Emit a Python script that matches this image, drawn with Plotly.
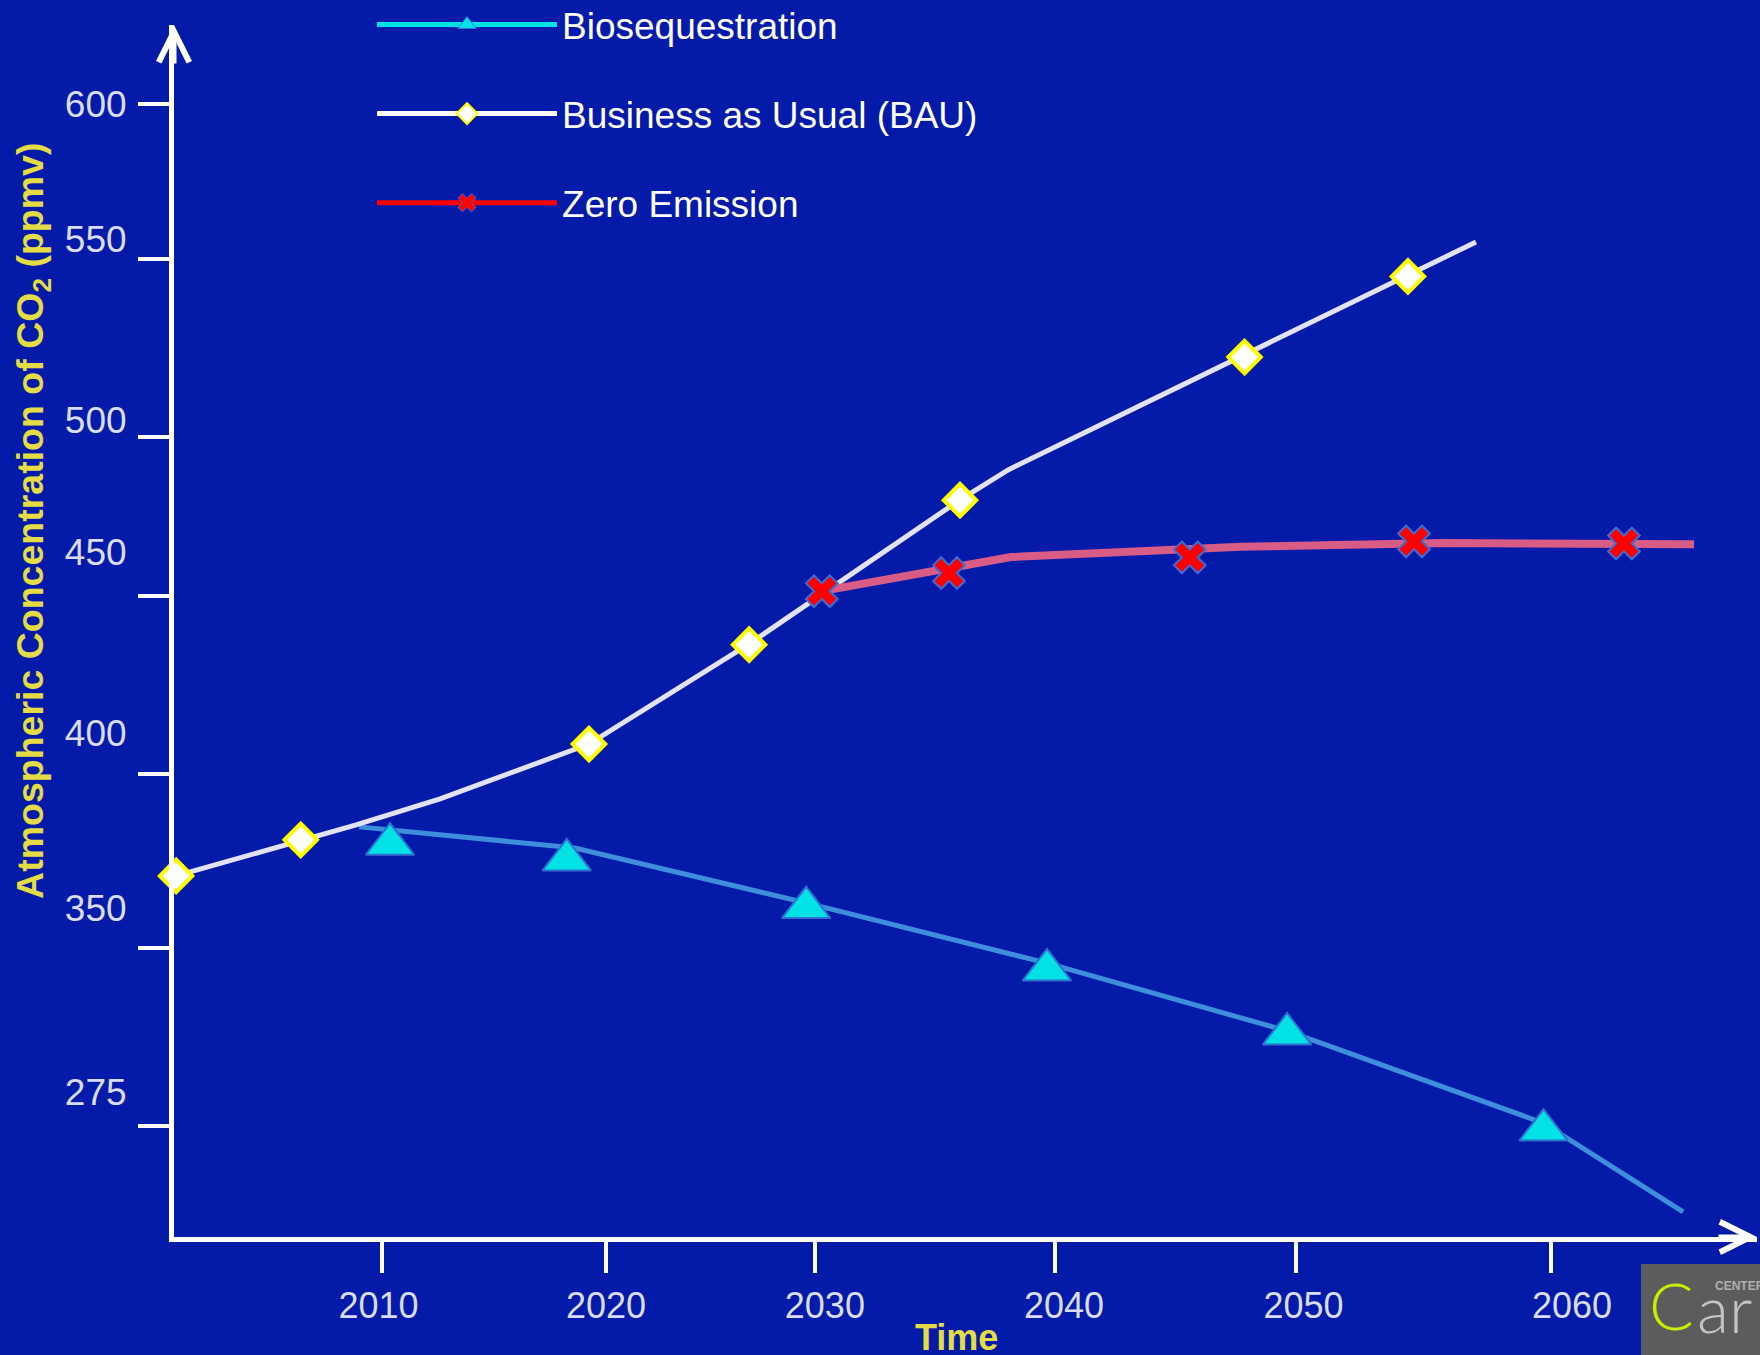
import plotly.graph_objects as go

# ---------------- data (axis units: year / ppmv) ----------------
bio_line_year = [2009.02, 2018.25, 2028.14, 2038.44, 2048.71, 2059.66, 2065.65]
bio_line_ppm = [387.8, 381.6, 365.5, 347.8, 327.9, 300.9, 274.8]
bio_pt_year = [2010.34, 2017.90, 2028.14, 2038.44, 2048.71, 2059.68]
bio_pt_ppm = [382.7, 378.1, 364.1, 345.8, 327.0, 298.8]

bau_line_year = [2001.19, 2006.54, 2008.89, 2012.48, 2018.85, 2025.70, 2034.72, 2036.78, 2056.79]
bau_line_ppm = [373.4, 384.0, 388.4, 396.0, 412.1, 441.5, 483.8, 492.6, 559.5]
bau_pt_year = [2001.19, 2006.52, 2018.85, 2025.70, 2034.72, 2046.89, 2053.88]
bau_pt_ppm = [373.4, 384.0, 412.1, 441.3, 483.7, 525.7, 549.4]

zero_line_year = [2028.81, 2036.90, 2046.74, 2055.42, 2066.12]
zero_line_ppm = [457.0, 467.0, 470.0, 471.1, 470.8]
zero_pt_year = [2028.81, 2034.25, 2044.55, 2054.14, 2063.12]
zero_pt_ppm = [457.0, 462.3, 466.9, 471.6, 471.0]

# tick marks and tick labels as drawn on the original slide
x_tick_years = [2010, 2019.58, 2028.52, 2038.79, 2049.09, 2060]
x_label_years = [2009.85, 2019.58, 2028.94, 2039.17, 2049.41, 2060.90]
x_labels = ["2010", "2020", "2030", "2040", "2050", "2060"]
y_tick_ppm = [300, 352.3, 403.3, 455.6, 502.3, 554.5, 600]
y_label_ppm = [310.0, 364.0, 415.4, 468.5, 507.2, 560.4, 600.0]
y_labels = ["275", "350", "400", "450", "500", "550", "600"]

x_range = [2001.10, 2068.81]
y_range = [267.4, 623.2]

series_names = ["Biosequestration", "Business as Usual (BAU)", "Zero Emission"]

BG = "#041aa8"
FONT = "Liberation Sans, Arial, sans-serif"
LABEL_COLOR = "#d8dcf4"
TITLE_COLOR = "#e4dc44"

fig = go.Figure()

# lines
fig.add_trace(go.Scatter(x=bio_line_year, y=bio_line_ppm, mode="lines",
                         line=dict(color="#3d8fdc", width=5), showlegend=False,
                         hoverinfo="skip", cliponaxis=False))
fig.add_trace(go.Scatter(x=bau_line_year, y=bau_line_ppm, mode="lines",
                         line=dict(color="#e2e2ff", width=5), showlegend=False,
                         hoverinfo="skip", cliponaxis=False))
fig.add_trace(go.Scatter(x=zero_line_year, y=zero_line_ppm, mode="lines",
                         line=dict(color="#d95c86", width=8), showlegend=False,
                         hoverinfo="skip", cliponaxis=False))

# markers
fig.add_trace(go.Scatter(x=bio_pt_year, y=bio_pt_ppm, mode="markers", showlegend=False,
                         marker=dict(symbol="triangle-up", size=42, color="#00e2e6",
                                     line=dict(color="#2f6fd0", width=2)), cliponaxis=False))
fig.add_trace(go.Scatter(x=bau_pt_year, y=bau_pt_ppm, mode="markers", showlegend=False,
                         marker=dict(symbol="diamond", size=25, color="#ffffff",
                                     line=dict(color="#ffff00", width=4)), cliponaxis=False))
fig.add_trace(go.Scatter(x=zero_pt_year, y=zero_pt_ppm, mode="markers", showlegend=False,
                         marker=dict(symbol="x", size=28, color="#ff0000",
                                     line=dict(color="#3a6fd8", width=2)), cliponaxis=False))

# empty trace so the label-only overlay axes get drawn
fig.add_trace(go.Scatter(x=[None], y=[None], xaxis="x2", yaxis="y2", mode="markers",
                         showlegend=False, hoverinfo="skip"))

# legend entries
legend_styles = [
    dict(line=dict(color="#00e2e6", width=5),
         marker=dict(symbol="triangle-up", size=16, color="#00e2e6", line=dict(color="#2f6fd0", width=1))),
    dict(line=dict(color="#ffffff", width=5),
         marker=dict(symbol="diamond", size=16, color="#ffffff", line=dict(color="#ffff00", width=2))),
    dict(line=dict(color="#ff0000", width=5),
         marker=dict(symbol="x", size=16, color="#ff0000", line=dict(color="#3a6fd8", width=1))),
]
for i, (nm, st) in enumerate(zip(series_names, legend_styles)):
    fig.add_trace(go.Scatter(x=[None], y=[None], mode="lines+markers", name=nm,
                             legendgroup=f"g{i}", legendrank=i + 1, **st))

fig.update_layout(
    width=1760, height=1355,
    margin=dict(l=174, r=3, t=25, b=118, autoexpand=False),
    paper_bgcolor=BG, plot_bgcolor=BG,
    font=dict(family=FONT, color="white", size=36),
    xaxis=dict(range=x_range, showgrid=False, zeroline=False,
               showline=True, linecolor="white", linewidth=5,
               ticks="outside", ticklen=31, tickwidth=4, tickcolor="white",
               tickvals=x_tick_years, showticklabels=False),
    xaxis2=dict(range=x_range, overlaying="x", anchor="y", side="bottom",
                showgrid=False, zeroline=False, showline=False,
                ticks="outside", ticklen=37, tickcolor="rgba(0,0,0,0)",
                tickvals=x_label_years, ticktext=x_labels,
                tickfont=dict(size=36, color=LABEL_COLOR, family=FONT)),
    yaxis=dict(range=y_range, showgrid=False, zeroline=False,
               showline=True, linecolor="white", linewidth=5,
               ticks="outside", ticklen=31, tickwidth=4, tickcolor="white",
               tickvals=y_tick_ppm, showticklabels=False),
    yaxis2=dict(range=y_range, overlaying="y", anchor="x", side="left",
                showgrid=False, zeroline=False, showline=False,
                ticks="outside", ticklen=39, tickcolor="rgba(0,0,0,0)",
                tickvals=y_label_ppm, ticktext=y_labels,
                tickfont=dict(size=37, color=LABEL_COLOR, family=FONT)),
    legend=dict(x=0.1251, y=1.0256, xanchor="left", yanchor="top",
                bgcolor="rgba(0,0,0,0)", borderwidth=0,
                font=dict(size=37, color="white", family=FONT),
                tracegroupgap=38, itemwidth=180),
    showlegend=True,
)

annotations = [
    # axis arrowheads
    dict(x=1, y=0, xref="paper", yref="paper", ax=-40, ay=0, text="", showarrow=True,
         arrowhead=5, arrowwidth=5, arrowsize=1.2, arrowcolor="white"),
    dict(x=0, y=1, xref="paper", yref="paper", ax=0, ay=40, text="", showarrow=True,
         arrowhead=5, arrowwidth=5, arrowsize=1.2, arrowcolor="white"),
    # axis titles
    dict(x=-0.0891, y=0.5908, xref="paper", yref="paper", showarrow=False,
         text="<b>Atmospheric Concentration of CO<sub>2</sub> (ppmv)</b>", textangle=-90,
         font=dict(size=37.5, color=TITLE_COLOR, family=FONT), xanchor="center", yanchor="middle"),
    dict(x=0.494, y=-0.0833, xref="paper", yref="paper", showarrow=False,
         text="<b>Time</b>", font=dict(size=36, color=TITLE_COLOR, family=FONT),
         xanchor="center", yanchor="middle"),
    # logo fragment in the corner
    dict(x=0.9463, y=-0.0553, xref="paper", yref="paper", showarrow=False, text="C",
         font=dict(size=66, color="#c8ee00", family="Lato", weight=300),
         xanchor="center", yanchor="middle"),
    dict(x=0.9608, y=-0.0580, xref="paper", yref="paper", showarrow=False, text="ar",
         font=dict(size=66, color="#c4c4c4", family="Lato", weight=300),
         xanchor="left", yanchor="middle"),
    dict(x=0.9722, y=-0.0404, xref="paper", yref="paper", showarrow=False, text="<b>CENTER</b>",
         font=dict(size=12, color="#b0b0b0", family=FONT),
         xanchor="left", yanchor="middle"),
]
fig.update_layout(annotations=annotations)

fig.add_shape(type="rect", xref="paper", yref="paper", x0=0.9267, x1=1.01, y0=-0.0223, y1=-0.11,
              fillcolor="#5c5c5c", line=dict(width=0), layer="below")

fig.write_html("out.html")
